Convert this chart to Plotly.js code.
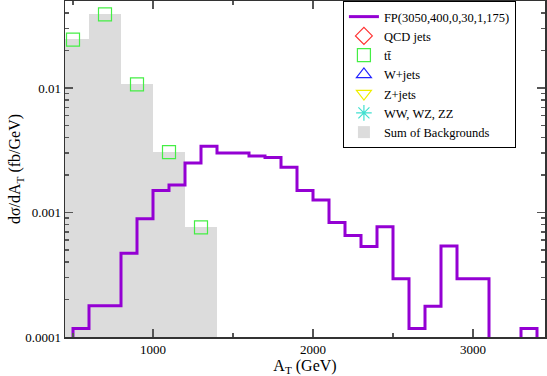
<!DOCTYPE html>
<html>
<head>
<meta charset="utf-8">
<script src="https://cdn.plot.ly/plotly-3.0.1.min.js"></script>
<style>
  html, body { margin: 0; padding: 0; background: #fff; }
  #myDiv { width: 547px; height: 376px; }
</style>
</head>
<body>
<div id="myDiv"></div>
<script>
// signal histogram, 100 GeV bins (left edges), 0 = empty bin
const sigEdges = [500, 600, 700, 800, 900, 1000, 1100, 1200, 1300, 1400,
    1500, 1600, 1700, 1800, 1900, 2000, 2100, 2200, 2300, 2400,
    2500, 2600, 2700, 2800, 2900, 3000, 3100, 3200, 3300];
const sigVals = [0.000117, 0.000178, 0.000178, 0.00047, 0.00089, 0.0015, 0.00166, 0.0025, 0.0034, 0.0030,
    0.0030, 0.00285, 0.00277, 0.00231, 0.0015, 0.00126, 0.00083, 0.000653, 0.000533, 0.00077,
    0.000294, 0.000117, 0.000177, 0.000537, 0.000294, 0.000294, 0, 0, 0.000117];
const binW = 100;

// backgrounds, 200 GeV bins (centres)
const bgCenters = [500, 700, 900, 1100, 1300];
const ttVals = [0.0245, 0.039, 0.0107, 0.00305, 0.00076];
const bgSum = [0.0248, 0.0394, 0.0108, 0.00307, 0.00077];
// these backgrounds have no point inside the plotted range
const noPoint = [null];

function loadPage() {
    const FLOOR = 1e-7; // empty bins drawn below the axis
    const serif = 'Liberation Serif, Times New Roman, serif';

    let sx = [sigEdges[0]];
    let sy = [FLOOR];
    for (let i = 0; i < sigEdges.length; i++) {
        sx.push(sigEdges[i]);
        sy.push(sigVals[i] > 0 ? sigVals[i] : FLOOR);
    }
    sx.push(sigEdges[sigEdges.length - 1] + binW);
    sy.push(FLOOR);

    var sumBg = {
        x: bgCenters, y: bgSum, type: 'bar', width: 200,
        name: 'Sum of Backgrounds',
        marker: {color: '#dcdcdc', line: {width: 0}}
    };
    var sig = {
        x: sx, y: sy, type: 'scatter', mode: 'lines',
        line: {shape: 'hv', color: '#9400d3', width: 3},
        name: 'FP(3050,400,0,30,1,175)'
    };
    var qcd = {
        x: [bgCenters[0]], y: noPoint, type: 'scatter', mode: 'markers', name: 'QCD jets',
        marker: {symbol: 'diamond-open', color: '#ff3030', size: 13, line: {width: 1.2}}
    };
    var tt = {
        x: bgCenters, y: ttVals, type: 'scatter', mode: 'markers', name: 'tt\u0304',
        marker: {symbol: 'square-open', color: '#44ee44', size: 13, line: {width: 1.2}}
    };
    var wj = {
        x: [bgCenters[0]], y: noPoint, type: 'scatter', mode: 'markers', name: 'W+jets',
        marker: {symbol: 'triangle-up-open', color: '#2222ff', size: 13, line: {width: 1.2}}
    };
    var zj = {
        x: [bgCenters[0]], y: noPoint, type: 'scatter', mode: 'markers', name: 'Z+jets',
        marker: {symbol: 'triangle-down-open', color: '#eeee00', size: 13, line: {width: 1.2}}
    };
    var vv = {
        x: [bgCenters[0]], y: noPoint, type: 'scatter', mode: 'markers', name: 'WW, WZ, ZZ',
        marker: {symbol: 'asterisk-open', color: '#40e0d0', size: 13, line: {width: 1.2}}
    };

    var data = [sumBg, sig, qcd, tt, wj, zj, vv];
    // legend order: signal first, sum last
    sig.legendrank = 1; qcd.legendrank = 2; tt.legendrank = 3; wj.legendrank = 4;
    zj.legendrank = 5; vv.legendrank = 6; sumBg.legendrank = 7;

    var layout = {
        width: 547, height: 376,
        margin: {l: 65, r: 2, t: 1, b: 39},
        paper_bgcolor: '#fff', plot_bgcolor: '#fff',
        font: {family: serif, size: 13, color: '#000'},
        showlegend: true,
        bargap: 0,
        legend: {
            x: 0.579, y: 1, xanchor: 'left', yanchor: 'top',
            bordercolor: '#000', borderwidth: 1, bgcolor: '#fff',
            font: {family: serif, size: 12.5, color: '#000'}, tracegroupgap: 0
        },
        xaxis: {
            range: [450, 3450],
            tickvals: [1000, 2000, 3000],
            ticks: 'inside', ticklen: 8, tickwidth: 1.5, tickcolor: '#555',
            minor: {dtick: 500, ticks: 'inside', ticklen: 4, tickcolor: '#555'},
            showline: true, linecolor: '#333', linewidth: 1.5, mirror: 'ticks',
            showgrid: false, zeroline: false,
            tickfont: {family: serif, size: 13},
            title: {text: 'A<sub>T</sub> (GeV)', font: {family: serif, size: 16}, standoff: 2}
        },
        yaxis: {
            type: 'log',
            range: [-4, Math.log10(0.05)],
            tickvals: [0.0001, 0.001, 0.01],
            ticktext: ['0.0001', '0.001', '0.01'],
            ticks: 'inside', ticklen: 8, tickwidth: 1.5, tickcolor: '#555',
            minor: {dtick: 'D1', ticks: 'inside', ticklen: 4, tickcolor: '#555'},
            showline: true, linecolor: '#333', linewidth: 1.5, mirror: 'ticks',
            showgrid: false, zeroline: false,
            tickfont: {family: serif, size: 13},
            title: {text: 'd\u03c3/dA<sub>T</sub> (fb/GeV)', font: {family: serif, size: 16}, standoff: 0}
        }
    };

    Plotly.newPlot('myDiv', data, layout, {staticPlot: true});
}
loadPage();
</script>
</body>
</html>
